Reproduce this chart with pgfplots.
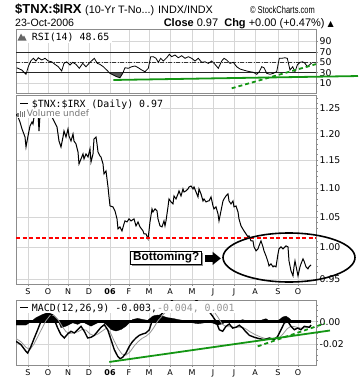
\documentclass[border=0pt]{standalone}
\usepackage{pgfplots}
\pgfplotsset{compat=1.18}
\usepackage{fontspec}
\setmainfont{DejaVu Sans}
\newfontfamily\arialfont{Liberation Sans}
\newfontfamily\monofont{DejaVu Sans Mono}
\usepackage{graphicx}
\definecolor{gridc}{RGB}{214,214,214}
\definecolor{framec}{RGB}{140,140,140}
\definecolor{tgreen}{RGB}{20,150,20}
\definecolor{sigc}{RGB}{150,150,150}
\definecolor{legc}{RGB}{120,120,120}
\pgfplotsset{
  panel/.style={
    anchor=north west, width=300bp, scale only axis,
    xmin=0, xmax=300,
    axis line style={framec, line width=0.8bp},
    xtick={12,32,52,73,94,113,133,154,176,197,218,239,262,282},
    xmajorgrids, ymajorgrids,
    major grid style={gridc, line width=0.6bp},
    xtick pos=left, ytick pos=right, yticklabel pos=right,
    tick align=outside, major tick length=2bp, minor tick length=1.5bp,
    tick style={framec, line width=0.6bp},
    yticklabel style={font=\fontsize{9.3bp}{10bp}\selectfont, inner sep=1.5bp},
    xticklabel style={font=\fontsize{8bp}{9bp}\selectfont, inner sep=2bp},
    xticklabels={S,O,N,D,{\bfseries 06},F,M,A,M,J,J,A,S,O},
    scaled y ticks=false,
  }
}
\begin{document}
\begin{tikzpicture}
\useasboundingbox (0,0) rectangle (360bp,-384bp);
% ---------- header ----------
\node[anchor=base west, inner sep=0] at (15bp,-13bp) {\arialfont\bfseries\fontsize{13bp}{14bp}\selectfont \$TNX:\$IRX};
\node[anchor=base west, inner sep=0] at (85bp,-13bp) {\arialfont\fontsize{10.8bp}{12bp}\selectfont (10-Yr T-No...) INDX/INDX};
\node[anchor=base east, inner sep=0] at (315bp,-13bp) {\arialfont\fontsize{10bp}{12bp}\selectfont\scalebox{0.75}[1]{\textcopyright\ StockCharts.com}};
\node[anchor=base west, inner sep=0] at (15bp,-26.5bp) {\arialfont\fontsize{10.6bp}{12bp}\selectfont 23-Oct-2006};
\node[anchor=base east, inner sep=0] at (334bp,-26.5bp) {\arialfont\fontsize{11bp}{12bp}\selectfont {\bfseries Close} 0.97\ \ {\bfseries Chg} +0.00 (+0.47\%) {\rmfamily\fontsize{8bp}{9bp}\selectfont ▲}};

% ---------- RSI panel ----------
\begin{axis}[panel, at={(16bp,-29.3bp)}, height=64.2bp, ymin=-10, ymax=113.5,
  ytick={10,30,50,70,90}, yticklabels={10,30,50,70,90}, xticklabels={},
  xtick style={draw=none}]
\addplot[fill=black!65, draw=none] coordinates {(93.4,30) (94,28.8) (97.3,25.6) (100.7,22.3) (104,20.4) (106.7,28.8) (107,30)};
\addplot[black!85, line width=0.8bp] coordinates {(0,70) (300,70)};
\addplot[black!85, line width=0.8bp] coordinates {(0,30) (300,30)};
\addplot[black!80, line width=0.7bp, dash pattern=on 4bp off 1.5bp on 1bp off 1.5bp] coordinates {(0,50) (300,50)};
\addplot[black, line width=0.8bp] coordinates {
(0.7,39.6) (5.7,35.2) (10,27) (12.3,41.5) (14.7,52.5) (17.3,57.7) (20,52.5) (22.3,58.8) (25.7,54.4) (29,57.7) (32.3,52.5) (35.7,51) (39,46) (42.3,41.5) (45.7,33.3) (48,48) (50.7,51) (54,44.8) (56.7,50) (60,46) (63.3,38.5) (66.7,48) (70,41.5) (74,50) (78.3,57.7) (81.3,48) (84,46) (87.3,41.5) (90.7,35.2) (94,28.8) (97.3,25.6) (100.7,22.3) (104,20.4) (106.7,28.8) (109,39.6) (112.3,38.5) (115.7,41.5) (119,42.9) (122.3,39.6) (125.7,35.2) (129,31.9) (132.3,38.5) (134.7,60.8) (137.3,60.8) (140,57.7) (142.3,50) (144.7,57.7) (147.3,52.5) (150.7,58.8) (153.3,65.4) (155.7,60.8) (159,64) (162.3,58.8) (165.7,62.7) (169,57.7) (172.3,60.8) (175.7,57.7) (179,52.5) (182.3,57.7) (185.7,50) (189,51) (192.3,48) (195.7,52.5) (199,46) (202.3,38.5) (205.7,52.5) (208,57.7) (210.7,54.4) (214,48) (217.3,50) (220.7,41.5) (224,37.1) (227.3,35.2) (230.7,33.3) (234,31.9) (237.3,30.8) (240.7,27) (243.3,31.9) (245.7,41.5) (248,39.6) (250.7,28.8) (254,27) (257.3,28.8) (260.7,31.9) (263.3,57.7) (265.7,57.7) (269,58.8) (271.3,57.7) (274,35.2) (276.7,41.5) (279,31.9) (281.3,44.8) (284,50) (286.7,51) (289,48) (291.3,41.5) (294,46) (295.7,48.65)};
\coordinate (rg1) at (axis cs:97.3,16);
\coordinate (rg2) at (axis cs:342,23.6);
\coordinate (rd1) at (axis cs:215.7,0);
\coordinate (rd2) at (axis cs:300,46.5);
\end{axis}
\fill[white] (16.6bp,-29.8bp) rectangle (112bp,-43bp);
\fill[black!60] (17.5bp,-40.5bp) -- (21bp,-33.5bp) -- (23bp,-37bp) -- (24bp,-35.5bp) -- (26.5bp,-40.5bp) -- cycle;
\node[anchor=base west, inner sep=0] at (31.7bp,-40bp) {\monofont\fontsize{9.9bp}{11bp}\selectfont RSI(14) 48.65};

% ---------- price panel ----------
\begin{axis}[panel, at={(16bp,-95bp)}, height=189.3bp, ymode=log, ymin=0.9421, ymax=1.277,
  ytick={0.95,1.0,1.05,1.1,1.15,1.2,1.25}, yticklabels={0.95,1.00,1.05,1.10,1.15,1.20,1.25},
  minor ytick={0.96,0.97,0.98,0.99,1.01,1.02,1.03,1.04,1.06,1.07,1.08,1.09,1.11,1.12,1.13,1.14,1.16,1.17,1.18,1.19,1.21,1.22,1.23,1.24,1.26,1.27}]
\addplot[black, line width=1bp] coordinates {
(0,1.238) (2,1.2326) (4,1.2228) (6,1.2091) (9,1.1937) (10,1.1747) (12,1.1956) (14,1.2149) (16,1.2228) (17,1.2188) (18,1.2326) (20,1.2446) (22,1.2406) (23,1.2052) (24,1.2366) (28,1.2486) (32,1.2446) (35,1.2406) (36,1.2326) (38,1.2247) (41,1.2130) (43,1.1860) (45,1.1747) (47,1.1937) (48,1.2052) (50,1.1937) (52,1.2091) (53,1.1956) (55,1.1860) (57,1.1995) (58,1.1860) (60,1.1804) (62,1.1653) (63,1.1431) (65,1.1523) (67,1.1616) (68,1.1523) (70,1.1616) (72,1.1560) (74,1.1709) (75,1.1467) (77,1.1616) (78,1.1898) (80,1.1937) (81,1.1804) (82,1.1653) (84,1.1578) (85,1.1560) (87,1.1431) (88,1.1249) (90,1.1303) (92,1.1016) (93,1.0841) (94,1.0685) (97,1.0668) (99,1.0600) (101,1.0465) (102,1.0298) (104,1.0331) (106,1.0265) (108,1.0381) (109,1.0431) (111,1.0414) (113,1.0465) (115,1.0431) (118,1.0465) (120,1.0348) (122,1.0414) (124,1.0331) (127,1.0265) (128,1.0216) (130,1.0216) (132,1.0134) (133,1.0265) (134,1.0414) (136,1.0634) (137,1.0583) (139,1.0634) (141,1.0600) (142,1.0465) (144,1.0348) (146,1.0331) (148,1.0431) (149,1.0348) (150,1.0431) (152,1.0668) (153,1.0806) (155,1.0754) (157,1.0720) (158,1.0858) (160,1.0806) (162,1.0893) (163,1.0946) (165,1.0858) (167,1.0981) (168,1.0928) (170,1.0946) (172,1.0981) (173,1.1016) (175,1.1034) (177,1.0981) (178,1.1016) (180,1.0928) (182,1.0841) (183,1.0981) (185,1.0893) (187,1.0771) (188,1.0806) (190,1.0754) (192,1.0771) (193,1.0771) (195,1.0841) (197,1.0685) (198,1.0634) (200,1.0668) (202,1.0549) (203,1.0431) (205,1.0600) (207,1.0771) (208,1.0806) (210,1.0858) (212,1.0893) (213,1.0771) (215,1.0720) (217,1.0771) (218,1.0668) (220,1.0685) (222,1.0583) (223,1.0465) (225,1.0348) (228,1.0265) (230,1.0216) (232,1.0167) (233,1.0183) (235,1.0102) (237,1.0102) (238,1.0005) (240,0.9941) (242,0.9973) (243,1.0021) (245,1.0102) (247,1.0005) (248,0.9941) (250,0.9861) (252,0.9767) (253,0.9704) (255,0.9736) (257,0.9689) (258,0.9704) (260,0.9689) (262,0.9893) (263,0.9973) (265,1.0005) (267,0.9973) (268,0.9989) (270,1.0021) (272,1.0005) (273,0.9782) (275,0.9627) (277,0.9550) (278,0.9689) (279,0.9782) (281,0.9627) (282,0.9550) (284,0.9689) (285,0.9736) (287,0.9814) (288,0.9782) (290,0.9689) (292,0.9658) (293,0.9689) (295,0.9720)};
\addplot[red, line width=1.5bp, dash pattern=on 4bp off 2.5bp] coordinates {(0,1.015) (300,1.015)};
\end{axis}
\fill[white] (16.6bp,-95.6bp) rectangle (161bp,-109.5bp);
\fill[white] (16.6bp,-109.5bp) rectangle (92bp,-118bp);
\draw[black, line width=1.8bp] (20bp,-103.5bp) -- (28bp,-103.5bp);
\node[anchor=base west, inner sep=0] at (31.7bp,-107bp) {\monofont\fontsize{9.9bp}{11bp}\selectfont \$TNX:\$IRX (Daily) 0.97};
\fill[legc] (17.3bp,-116.5bp) rectangle (18.8bp,-112.5bp);
\fill[legc] (19.6bp,-116.5bp) rectangle (21.1bp,-110.5bp);
\fill[legc] (21.9bp,-116.5bp) rectangle (23.4bp,-111.8bp);
\fill[legc] (24.2bp,-116.5bp) rectangle (25.2bp,-110.5bp);
\node[anchor=base west, inner sep=0, text=legc] at (26.7bp,-116.5bp) {\fontsize{9bp}{10bp}\selectfont Volume undef};
% callout
\fill[black!45] (132.2bp,-253.2bp) rectangle (203.2bp,-265.5bp);
\node[draw=black, line width=1bp, fill=white, inner sep=0, minimum width=71bp, minimum height=12.3bp, anchor=center] at (166.2bp,-257.9bp) {\arialfont\bfseries\fontsize{11.8bp}{12bp}\selectfont Bottoming?};
\fill[black] (205bp,-255.2bp) rectangle (213bp,-261.6bp);
\fill[black] (212.5bp,-251.7bp) -- (220.8bp,-258.4bp) -- (212.5bp,-265.1bp) -- cycle;
\draw[black, line width=1.6bp] (289bp,-257.5bp) ellipse [x radius=66bp, y radius=24.5bp];

% ---------- MACD panel ----------
\begin{axis}[panel, at={(16bp,-300bp)}, height=65bp, ymin=-0.03883, ymax=0.01946,
  ytick={-0.02,0}, yticklabels={-0.02,0.00},
  minor ytick={-0.035,-0.03,-0.025,-0.015,-0.01,-0.005,0.005,0.01,0.015}]
\addplot[fill=black, draw=black, line width=0.3bp] coordinates {
(0,-0.003) (10,-0.003) (15,0) (20,0.0036) (26.7,0.0066) (31.7,0.008) (36.7,0.0066) (41.7,0.002) (45,-0.0054) (50,-0.004) (56.7,-0.001) (61.7,-0.0024) (66.7,0) (70,-0.0018) (75,-0.004) (80,-0.0018) (85,0.0006) (90,-0.0024) (95,-0.007) (100,-0.0084) (105,-0.007) (110,-0.004) (113.3,-0.001) (116.7,0.002) (121.7,0.003) (126.7,0.002) (131.7,0.0012) (136.7,0.005) (141.7,0.006) (146.7,0.005) (151.7,0.0036) (156.7,0.003) (161.7,0.002) (166.7,0.0012) (171.7,0.0006) (176.7,-0.001) (181.7,-0.0018) (186.7,-0.0012) (191.7,-0.0006) (196.7,-0.0012) (201.7,-0.003) (206.7,-0.0018) (211.7,0.0012) (216.7,0) (221.7,0.0006) (226.7,0.0018) (231.7,0.0006) (236.7,-0.0006) (241.7,0) (246.7,0.0018) (250,0.0027) (253.3,0.0006) (258.3,0) (263.3,0.0018) (266.7,0.0042) (270,0.005) (273.3,0.003) (276.7,0) (281.7,0) (286.7,0.0012) (291.7,0.0006) (295,0.001)} \closedcycle;
\addplot[black, line width=3bp] coordinates {(0,0) (295,0)};
\addplot[sigc, line width=0.8bp] coordinates {
(0,-0.0150) (5,-0.0180) (10,-0.0230) (14,-0.0250) (18,-0.0200) (22,-0.0130) (26,-0.0060) (30,0.0010) (34,0.0055) (38,0.0055) (42,0.0020) (46,-0.0040) (50,-0.0090) (54,-0.0105) (58,-0.0100) (62,-0.0090) (66,-0.0070) (70,-0.0075) (74,-0.0110) (78,-0.0125) (82,-0.0110) (86,-0.0085) (90,-0.0060) (94,-0.0090) (98,-0.0170) (102,-0.0240) (106,-0.0290) (110,-0.0300) (114,-0.0270) (118,-0.0220) (122,-0.0180) (126,-0.0150) (130,-0.0130) (134,-0.0100) (138,-0.0050) (142,0.0010) (146,0.0050) (150,0.0090) (154,0.0130) (158,0.0170) (162,0.0200) (168,0.0230) (176,0.0230) (182,0.0210) (188,0.0175) (194,0.0130) (198,0.0090) (202,0.0040) (206,-0.0020) (210,-0.0045) (214,-0.0045) (218,-0.0050) (222,-0.0050) (226,-0.0048) (230,-0.0065) (234,-0.0090) (239,-0.0115) (244,-0.0135) (249,-0.0150) (254,-0.0152) (259,-0.0155) (263,-0.0145) (267,-0.0110) (271,-0.0065) (275,-0.0040) (279,-0.0045) (283,-0.0055) (287,-0.0058) (291,-0.0050) (295,-0.0040)};
\addplot[black, line width=1.4bp] coordinates {
(0,-0.0176) (5,-0.0206) (10,-0.0266) (11.7,-0.0281) (15,-0.0221) (18.3,-0.0146) (21.7,-0.0072) (25,0.0004) (28.3,0.0057) (31.7,0.0078) (35,0.0063) (38.3,0.0018) (41.7,-0.0057) (45,-0.0117) (48.3,-0.0146) (51.7,-0.0110) (55,-0.0086) (58.3,-0.0101) (61.7,-0.0072) (65,-0.0041) (68.3,-0.0086) (71.7,-0.0146) (75,-0.0140) (78.3,-0.0122) (81.7,-0.0086) (85,-0.0050) (88.3,-0.0027) (91.7,-0.0072) (95,-0.0161) (98.3,-0.0251) (101.7,-0.0310) (104,-0.0332) (106.7,-0.0319) (110,-0.0281) (113.3,-0.0221) (116.7,-0.0176) (120,-0.0146) (123.3,-0.0122) (126.7,-0.0110) (130,-0.0101) (133.3,-0.0072) (136,0.0004) (138.3,0.0048) (141.7,0.0048) (145,0.0063) (148.3,0.0093) (151.7,0.0138) (155,0.0183) (158.3,0.0213) (164,0.025) (170,0.026) (176.7,0.0213) (181.7,0.0183) (186.7,0.0138) (191.7,0.0108) (196.7,0.0048) (200,0.0004) (203.3,-0.0072) (206.7,-0.0086) (210,-0.0041) (213.3,-0.0021) (216.7,-0.0057) (220,-0.0050) (223.3,-0.0032) (226.7,-0.0057) (230,-0.0092) (233.3,-0.0122) (238.3,-0.0140) (243.3,-0.0152) (248.3,-0.0161) (253.3,-0.0146) (258.3,-0.0161) (261.7,-0.0131) (265,-0.0072) (268.3,-0.0012) (271.7,0.0004) (275,-0.0041) (278.3,-0.0072) (281.7,-0.0057) (285,-0.0072) (288.3,-0.0041) (293.3,-0.0050) (295,-0.0030)};
\coordinate (mg1) at (axis cs:93.3,-0.0361);
\coordinate (mg2) at (axis cs:314,-0.0079);
\coordinate (md1) at (axis cs:241.7,-0.0221);
\coordinate (md2) at (axis cs:309,-0.0015);
\end{axis}
\fill[white] (16.6bp,-300.5bp) rectangle (241bp,-313.3bp);
\draw[black, line width=1.8bp] (20bp,-307.5bp) -- (28bp,-307.5bp);
\node[anchor=base west, inner sep=0] at (31.7bp,-311bp) {\monofont\fontsize{9.9bp}{11bp}\selectfont MACD(12,26,9) -0.003,\textcolor{sigc}{ -0.004, 0.001}};

% ---------- trend lines ----------
\draw[tgreen, line width=1.8bp] (rg1) -- (rg2);
\draw[tgreen, line width=1.8bp, dash pattern=on 4bp off 3bp] (rd1) -- (rd2);
\draw[tgreen, line width=1.8bp] (mg1) -- (mg2);
\draw[tgreen, line width=1.8bp, dash pattern=on 4bp off 3bp] (md1) -- (md2);
\end{tikzpicture}
\end{document}
